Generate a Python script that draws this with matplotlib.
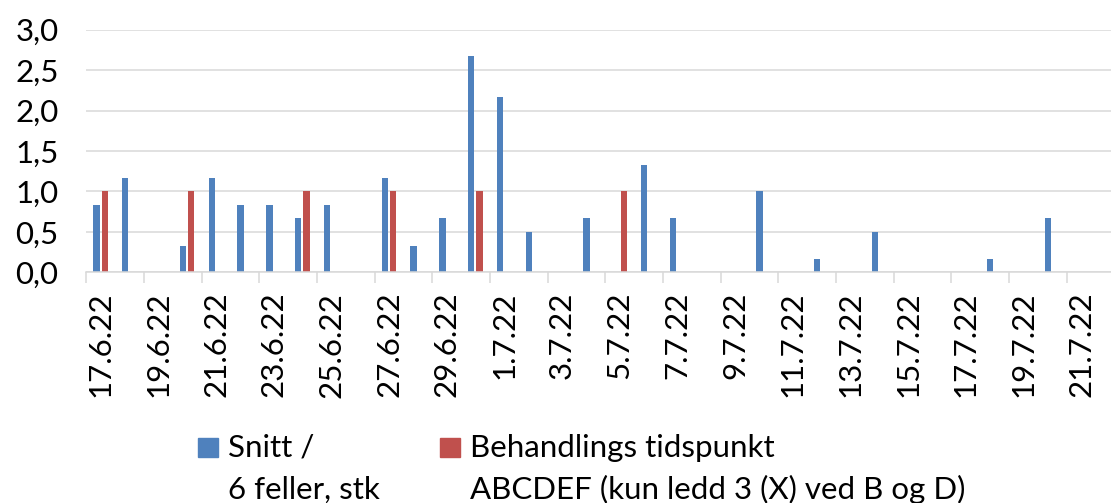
import numpy as np
import pandas as pd
import matplotlib as mpl
import matplotlib.pyplot as plt
from matplotlib.patches import Rectangle

mpl.rcParams['font.family'] = ['Lato', 'DejaVu Sans']

# one category per day, 17.6 - 21.7.2022
days = pd.date_range('2022-06-17', '2022-07-21', freq='D')
day_labels = [f'{d.day}.{d.month}.22' for d in days]

# mean catch per trap (6 traps)
snitt = [0.83, 1.17, 0, 0.33, 1.17, 0.83, 0.83, 0.67, 0.83, 0, 1.17, 0.33,
         0.67, 2.67, 2.17, 0.5, 0, 0.67, 0, 1.33, 0.67, 0, 0, 1.0, 0, 0.17,
         0, 0.5, 0, 0, 0, 0.17, 0, 0.67, 0]
# treatment days
behandling = [1, 0, 0, 1, 0, 0, 0, 1, 0, 0, 1, 0, 0, 1, 0, 0, 0, 0, 1, 0,
              0, 0, 0, 0, 0, 0, 0, 0, 0, 0, 0, 0, 0, 0, 0]

y_ticks = [0, 0.5, 1.0, 1.5, 2.0, 2.5, 3.0]

blue = '#4F81BD'
red = '#C0504D'
grid = '#D9D9D9'
fs = 22.5

W, H = 1111, 503
fig = plt.figure(figsize=(W / 100, H / 100), dpi=100)
ax = fig.add_axes([86.3 / W, (H - 272.3) / H, 1 - 86.3 / W, (272.3 - 29.7) / H])

x = np.arange(len(days))
ax.bar(x - 0.15, snitt, width=0.22, color=blue, linewidth=0, zorder=3)
ax.bar(x + 0.14, behandling, width=0.22, color=red, linewidth=0, zorder=3)

ax.set_xlim(-0.5, 35.04)
ax.set_ylim(0, 3.0)

ax.set_yticks(y_ticks, labels=[f'{v:.1f}'.replace('.', ',') for v in y_ticks])
ax.tick_params(axis='y', length=0, pad=20, labelsize=fs)
ax.yaxis.grid(True, color=grid, linewidth=1.1, zorder=0)

# labels every second day, tick marks on the category boundaries
ax.set_xticks(x[::2], labels=[day_labels[i] for i in x[::2]], rotation=90)
ax.set_xticks(np.arange(-0.5, 35, 2), minor=True)
ax.tick_params(axis='x', which='major', length=0, pad=14, labelsize=fs)
ax.tick_params(axis='x', which='minor', length=8, width=1.1, color=grid)

for s in ['top', 'right', 'left']:
    ax.spines[s].set_visible(False)
ax.spines['bottom'].set_color(grid)
ax.spines['bottom'].set_linewidth(1.1)
ax.spines['bottom'].set_zorder(4)


def px(xp, yp):
    return xp / W, (H - yp) / H


# legend, drawn by hand so the swatch sits on the first line
for sx, col, lines in [(198.3, blue, ['Snitt /', '6 feller, stk']),
                       (440.0, red, ['Behandlings tidspunkt',
                                     'ABCDEF (kun ledd 3 (X) ved B og D)'])]:
    fig.patches.append(Rectangle(px(sx, 456.7), 19.5 / W, 18.5 / H,
                                 transform=fig.transFigure, color=col))
    for j, t in enumerate(lines):
        fig.text(*px(sx + 29.5, 456.5 + 42 * j), t, fontsize=fs,
                 va='baseline', ha='left')

fig.savefig('out.png', dpi=100)
